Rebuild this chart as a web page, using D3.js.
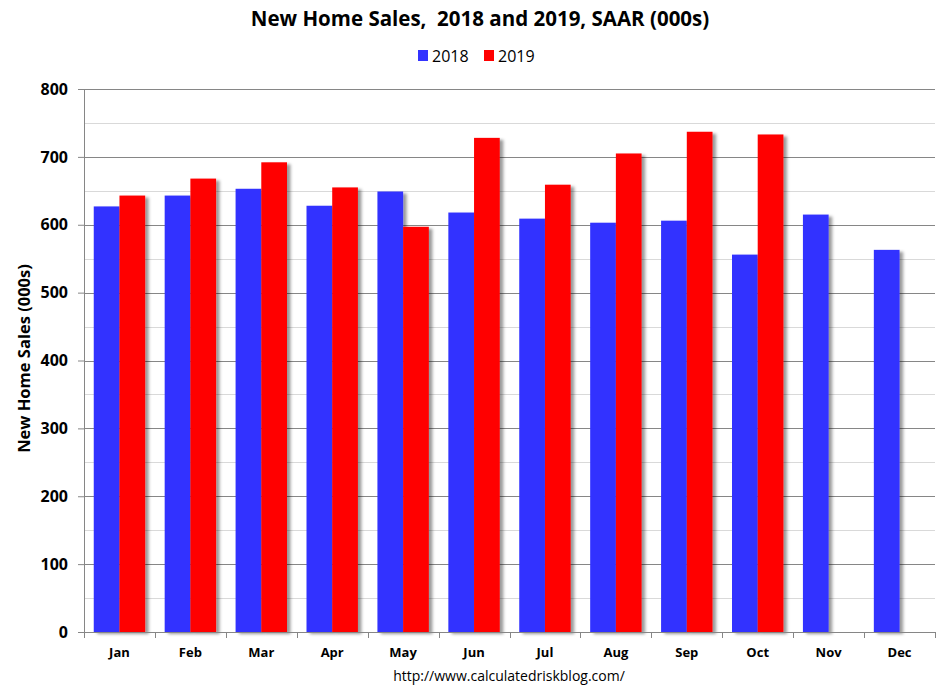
<!DOCTYPE html>
<html>
<head>
<meta charset="utf-8">
<script src="https://cdn.jsdelivr.net/npm/d3@7/dist/d3.min.js"></script>
<style>
  html, body { margin: 0; padding: 0; background: #fff; }
  svg { display: block; }
</style>
</head>
<body>
<svg id="chart" width="946" height="691"></svg>
<script>
const months = ["Jan","Feb","Mar","Apr","May","Jun","Jul","Aug","Sep","Oct","Nov","Dec"];
const sales2018 = [627, 643, 653, 628, 649, 618, 609, 603, 606, 556, 615, 563];
const sales2019 = [643, 668, 692, 655, 597, 728, 659, 705, 737, 733, null, null];
const seriesNames = ["2018", "2019"];
const seriesColors = ["#3333ff", "#ff0000"];
const yTicks = [0, 100, 200, 300, 400, 500, 600, 700, 800];
const yMinorTicks = [50, 150, 250, 350, 450, 550, 650, 750];
const titleText = "New Home Sales,  2018 and 2019, SAAR (000s)";
const yAxisTitle = "New Home Sales (000s)";
const sourceText = "http://www.calculatedriskblog.com/";

const svg = d3.select("#chart");
const font = "'Open Sans', 'DejaVu Sans', sans-serif";

const margin = {left: 84, right: 11, top: 89, bottom: 59};
const W = 946, H = 691;
const plotW = W - margin.left - margin.right;
const plotH = H - margin.top - margin.bottom;

const defs = svg.append("defs");
const f = defs.append("filter").attr("id", "shadow")
  .attr("x", "-20%").attr("y", "-5%").attr("width", "160%").attr("height", "115%");
f.append("feDropShadow").attr("dx", 3.5).attr("dy", 2).attr("stdDeviation", 1.8)
  .attr("flood-color", "#000").attr("flood-opacity", 0.4);

const x0 = d3.scaleBand().domain(months).range([0, plotW]).paddingInner(0.275).paddingOuter(0.1375);
const x1 = d3.scaleBand().domain(seriesNames).range([0, x0.bandwidth()]);
const y = d3.scaleLinear().domain([0, 800]).range([plotH, 0]);

const g = svg.append("g").attr("transform", `translate(${margin.left},${margin.top})`);

// minor gridlines
g.append("g").selectAll("line").data(yMinorTicks).join("line")
  .attr("x1", 0).attr("x2", plotW)
  .attr("y1", d => Math.round(y(d)) + 0.5).attr("y2", d => Math.round(y(d)) + 0.5)
  .attr("stroke", "#d9d9d9").attr("stroke-width", 1);

// major gridlines
g.append("g").selectAll("line").data(yTicks.filter(d => d > 0)).join("line")
  .attr("x1", 0).attr("x2", plotW)
  .attr("y1", d => Math.round(y(d)) + 0.5).attr("y2", d => Math.round(y(d)) + 0.5)
  .attr("stroke", "#868686").attr("stroke-width", 1);

// bars
const series = [sales2018, sales2019];
const barsG = g.append("g");
months.forEach((m, i) => {
  series.forEach((s, k) => {
    const v = s[i];
    if (v == null) return;
    barsG.append("rect")
      .attr("x", x0(m) + x1(seriesNames[k]))
      .attr("y", y(v))
      .attr("width", x1.bandwidth())
      .attr("height", plotH - y(v))
      .attr("fill", seriesColors[k])
      .attr("filter", "url(#shadow)");
  });
});

// y axis
const yAxis = d3.axisLeft(y).tickValues(yTicks).tickSize(6).tickPadding(10);
const yA = g.append("g").call(yAxis);
yA.select(".domain").attr("stroke", "#868686");
yA.selectAll(".tick line").attr("stroke", "#868686");
yA.selectAll("text").attr("font-family", font).attr("font-size", 16).attr("font-weight", "bold").attr("fill", "#000");

// x axis with ticks at category boundaries
const xA = g.append("g").attr("transform", `translate(0,${plotH})`);
xA.append("line").attr("x1", 0).attr("x2", plotW).attr("y1", 0.5).attr("y2", 0.5).attr("stroke", "#868686");
d3.range(0, months.length + 1).forEach(i => {
  const xx = Math.round(i * plotW / months.length) + 0.5;
  xA.append("line").attr("x1", xx).attr("x2", xx).attr("y1", 0).attr("y2", 6).attr("stroke", "#868686");
});
xA.selectAll("text.month").data(months).join("text")
  .attr("class", "month")
  .attr("x", d => x0(d) + x0.bandwidth() / 2)
  .attr("y", 25)
  .attr("text-anchor", "middle")
  .attr("font-family", font).attr("font-size", 13).attr("font-weight", "bold")
  .text(d => d);

// title
svg.append("text").attr("x", 480).attr("y", 26).attr("text-anchor", "middle")
  .attr("font-family", font).attr("font-size", 20.5).attr("font-weight", "bold")
  .attr("xml:space", "preserve").style("white-space", "pre")
  .text(titleText);

// legend
const legend = svg.append("g");
const legendItems = [{x: 418}, {x: 484}];
seriesNames.forEach((n, k) => {
  legend.append("rect").attr("x", legendItems[k].x).attr("y", 50).attr("width", 10).attr("height", 11).attr("fill", seriesColors[k]);
  legend.append("text").attr("x", legendItems[k].x + 14).attr("y", 62)
    .attr("font-family", font).attr("font-size", 16).text(n);
});

// y axis title
svg.append("text").attr("transform", `translate(30,${margin.top + plotH/2 - 2}) rotate(-90)`)
  .attr("text-anchor", "middle")
  .attr("font-family", font).attr("font-size", 16.5).attr("font-weight", "bold")
  .text(yAxisTitle);

// source
svg.append("text").attr("x", 509).attr("y", 681).attr("text-anchor", "middle")
  .attr("font-family", font).attr("font-size", 14).text(sourceText);
</script>
</body>
</html>
